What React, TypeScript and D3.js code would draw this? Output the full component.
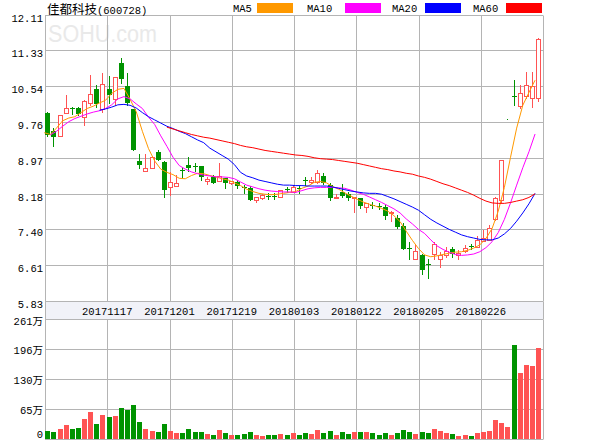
import { useEffect, useRef } from 'react';
import * as d3 from 'd3';

// daily K-line values (price in yuan, volume in 万 shares)
const opens = [
  9.95, 9.55, 9.45, 9.94, 10.07, 10.05, 9.87, 10.18, 10.47, 10.03,
  10.47, 10.26, 11.05, 10.54, 10.03, 8.9, 8.69, 8.75, 9.09, 8.87,
  8.33, 8.36, 8.7, 8.81, 8.79, 8.79, 8.45, 8.54, 8.46, 8.52,
  8.42, 8.44, 8.33, 8.3, 8.05, 8.09, 8.14, 8.13, 8.11, 8.29,
  8.22, 8.31, 8.49, 8.44, 8.43, 8.57, 8.37, 8.08, 8.22, 8.17,
  8.08, 8.08, 7.88, 7.94, 7.91, 7.88, 7.76, 7.66, 7.47, 7.0,
  6.74, 6.83, 6.64, 6.85, 6.74, 6.83, 6.98, 6.83, 6.93, 7.03,
  7.02, 7.15, 7.16, 7.62, 8.04, 9.81, 10.33, 10.11, 10.33, 10.29,
  10.27,
];
const closes = [
  9.47, 9.43, 9.9, 10.07, 10.05, 9.93, 10.21, 10.36, 10.15, 10.58,
  10.34, 10.73, 10.7, 10.17, 9.15, 8.81, 8.74, 8.99, 8.92, 8.27,
  8.43, 8.41, 8.68, 8.74, 8.78, 8.55, 8.5, 8.42, 8.57, 8.42,
  8.46, 8.35, 8.31, 8.05, 8.1, 8.15, 8.12, 8.12, 8.26, 8.27,
  8.32, 8.29, 8.47, 8.48, 8.63, 8.41, 8.09, 8.11, 8.13, 8.08,
  8.1, 7.91, 7.97, 7.92, 7.89, 7.69, 7.78, 7.45, 6.98, 6.99,
  6.93, 6.52, 6.62, 7.08, 6.83, 6.92, 6.87, 6.88, 7.0, 7.02,
  7.16, 7.22, 7.44, 8.09, 8.92, 9.81, 10.31, 10.4, 10.56, 10.54,
  11.57,
];
const highs = [
  9.98, 9.62, 9.9, 10.34, 10.08, 10.09, 10.23, 10.78, 10.56, 10.82,
  10.77, 10.73, 11.15, 10.82, 10.03, 9.06, 9.06, 9.0, 9.14, 8.9,
  8.66, 8.6, 8.74, 8.99, 8.86, 8.79, 8.55, 8.59, 8.86, 8.52,
  8.47, 8.48, 8.37, 8.35, 8.12, 8.17, 8.19, 8.19, 8.27, 8.32,
  8.37, 8.35, 8.55, 8.55, 8.7, 8.63, 8.41, 8.17, 8.39, 8.22,
  8.1, 8.09, 7.97, 8.0, 7.97, 7.93, 7.8, 7.71, 7.53, 7.12,
  7.05, 6.87, 6.74, 7.12, 6.91, 7.02, 7.02, 6.94, 7.05, 7.07,
  7.25, 7.38, 7.49, 8.11, 8.93, 9.81, 10.67, 10.56, 10.86, 10.86,
  11.59,
];
const lows = [
  9.44, 9.22, 9.45, 9.94, 9.93, 9.9, 9.69, 10.12, 10.09, 9.98,
  10.16, 10.12, 10.61, 10.12, 9.15, 8.74, 8.69, 8.74, 8.92, 8.11,
  8.15, 8.36, 8.52, 8.68, 8.68, 8.49, 8.39, 8.41, 8.46, 8.3,
  8.4, 8.3, 8.19, 8.04, 8.0, 8.07, 8.06, 8.07, 8.11, 8.22,
  8.22, 8.2, 8.37, 8.41, 8.41, 8.39, 8.04, 8.08, 8.11, 8.04,
  7.78, 7.87, 7.78, 7.86, 7.84, 7.62, 7.59, 7.44, 6.96, 6.76,
  6.74, 6.43, 6.34, 6.74, 6.58, 6.8, 6.8, 6.76, 6.91, 6.96,
  7.02, 7.15, 7.16, 7.6, 8.0, 9.81, 10.12, 10.05, 10.27, 10.09,
  10.22,
];
const volumes = [
  16, 14.5, 20, 29, 20, 23, 42, 57.5, 31, 51,
  46.6, 48.8, 66, 62, 73, 35.7, 20, 16, 13.8, 31,
  16, 11.6, 11.6, 20, 13.8, 13.8, 9.4, 7.3, 18, 11.6,
  7.3, 7.3, 9.4, 13.8, 7.3, 5, 7.3, 7.3, 9.4, 7.3,
  11.6, 7.3, 13, 9.4, 18, 11, 16, 7.3, 13.8, 9.4,
  13.8, 13.8, 13.8, 11.6, 7.3, 11.6, 7.3, 11.6, 18, 13.8,
  9.4, 13.8, 11.6, 20, 16, 11.6, 9.4, 5, 7.3, 5,
  11.6, 13.8, 16, 40, 33.5, 24.7, 204, 143.5, 160, 158,
  197,
];

// moving averages as drawn in the reference (null = not drawn yet)
const ma5 = [
  9.52, 9.48, 9.62, 9.78, 9.84, 9.87, 9.96, 10.05, 10.1, 10.17,
  10.23, 10.38, 10.47, 10.49, 10.25, 9.98, 9.55, 9.17, 8.9, 8.72,
  8.65, 8.6, 8.52, 8.51, 8.58, 8.63, 8.62, 8.58, 8.55, 8.51,
  8.48, 8.42, 8.36, 8.28, 8.23, 8.19, 8.17, 8.16, 8.17, 8.19,
  8.21, 8.23, 8.3, 8.35, 8.43, 8.45, 8.42, 8.34, 8.28, 8.2,
  8.13, 8.06, 8.0, 7.95, 7.91, 7.86, 7.8, 7.7, 7.57, 7.36,
  7.16, 6.98, 6.84, 6.8, 6.82, 6.85, 6.88, 6.9, 6.91, 6.94,
  6.99, 7.06, 7.2, 7.42, 7.8, 8.32, 8.98, 9.62, 10.12, 10.4,
  10.67,
];
const ma10 = [
  null, 9.47, 9.55, 9.66, 9.76, 9.83, 9.88, 9.93, 9.97, 10.0,
  10.05, 10.13, 10.26, 10.31, 10.26, 10.15, 10.05, 9.86, 9.7, 9.45,
  9.22, 8.98, 8.8, 8.72, 8.66, 8.62, 8.59, 8.57, 8.55, 8.55,
  8.54, 8.51, 8.44, 8.37, 8.33, 8.29, 8.26, 8.24, 8.23, 8.22,
  8.22, 8.21, 8.25, 8.29, 8.31, 8.32, 8.32, 8.32, 8.31, 8.3,
  8.26, 8.21, 8.17, 8.11, 8.05, 7.99, 7.92, 7.85, 7.76, 7.63,
  7.52, 7.4, 7.31, 7.17, 7.04, 6.96, 6.9, 6.85, 6.83, 6.84,
  6.86, 6.91, 7.0, 7.13, 7.33, 7.62, 7.98, 8.37, 8.75, 9.1,
  9.49,
];
const ma20 = [
  null, null, null, null, null, null, null, null, null, 10.01,
  10.04, 10.08, 10.13, 10.14, 10.12, 10.06, 9.96, 9.87, 9.8, 9.73,
  9.66, 9.61, 9.55, 9.5, 9.43, 9.36, 9.3, 9.18, 9.1, 9.02,
  8.94, 8.82, 8.65, 8.57, 8.53, 8.48, 8.45, 8.42, 8.39, 8.37,
  8.37, 8.36, 8.36, 8.35, 8.35, 8.35, 8.35, 8.33, 8.3, 8.27,
  8.24, 8.22, 8.2, 8.19, 8.19, 8.17, 8.12, 8.07, 8.01, 7.95,
  7.89, 7.82, 7.72, 7.62, 7.54, 7.47, 7.4, 7.34, 7.28, 7.24,
  7.21, 7.18, 7.17, 7.17, 7.21, 7.3, 7.42, 7.58, 7.76, 7.96,
  8.19,
];
const ma60 = [
  null, null, null, null, null, null, null, null, null, null,
  null, null, null, null, null, null, null, null, null, null,
  9.64, 9.6, 9.56, 9.52, 9.48, 9.45, 9.42, 9.4, 9.37, 9.34,
  9.31, 9.28, 9.24, 9.21, 9.19, 9.16, 9.13, 9.11, 9.09, 9.07,
  9.05, 9.03, 9.02, 9.0, 8.97, 8.95, 8.94, 8.93, 8.91, 8.89,
  8.87, 8.85, 8.82, 8.79, 8.76, 8.73, 8.71, 8.68, 8.66, 8.63,
  8.61, 8.57, 8.54, 8.5, 8.45, 8.4, 8.36, 8.31, 8.26, 8.21,
  8.15, 8.08, 8.02, 7.98, 7.97, 7.97, 7.99, 8.02, 8.05, 8.1,
  8.18,
];

const dateLabels = ['20171117', '20171201', '20171219', '20180103', '20180122', '20180205', '20180226'];
const priceTicks = ['12.11', '11.33', '10.54', '9.76', '8.97', '8.18', '7.40', '6.61', '5.83'];
const volTicks = ['261万', '196万', '130万', '65万', '0'];
const maNames = ['MA5', 'MA10', 'MA20', 'MA60'];

const RED = '#ff5353';
const GREEN = '#009300';
const GRID = '#b4b4b4';
const MA_COLORS = ['#ff9900', '#ff00ff', '#0000ff', '#ff0000'];
const MONO = '"Liberation Mono", "DejaVu Sans Mono", monospace';

const App = () => {
  const ref = useRef<SVGSVGElement | null>(null);

  useEffect(() => {
    const svg = d3.select(ref.current);
    svg.selectAll('*').remove();

    const left = 45;
    const right = 543;
    const priceTop = 14.5;
    const priceBottom = 301;
    const volTop = 319;
    const volBottom = 438.5;

    const idx = d3.range(closes.length);
    const x = d3.scaleBand<number>().domain(idx).range([44.2, 541.2]).padding(0);
    const step = x.step();
    const cx = (i: number) => Math.round((x(i) as number) + step / 2);

    const y = d3.scaleLinear().domain([5.83, 12.11]).range([priceBottom, priceTop]);
    const yv = d3.scaleLinear().domain([0, 261]).range([volBottom, volTop]);
    const cols = d3.scaleLinear().domain([0, 8]).range([left, right]);
    const crisp = (v: number) => Math.round(v) + 0.5;

    // date strip
    svg.append('rect')
      .attr('x', left).attr('y', priceBottom)
      .attr('width', right - left).attr('height', volTop - priceBottom)
      .attr('fill', '#f1f2f8');

    // watermark
    svg.append('text')
      .attr('x', 48).attr('y', 42)
      .attr('font-family', 'Arial, "Liberation Sans", sans-serif')
      .attr('font-size', 23)
      .attr('fill', '#e9e9e9')
      .attr('textLength', 109)
      .attr('lengthAdjust', 'spacingAndGlyphs')
      .text('SOHU.com');

    const grid = svg.append('g').attr('stroke', GRID).attr('stroke-width', 1).attr('fill', 'none');
    // horizontal price grid
    priceTicks.forEach((_, k) => {
      const yy = crisp(priceTop + (k * (priceBottom - priceTop)) / 8);
      grid.append('line').attr('x1', left).attr('x2', right).attr('y1', yy).attr('y2', yy);
    });
    volTicks.forEach((_, k) => {
      const yy = crisp(volTop + (k * (volBottom - volTop)) / 4);
      grid.append('line').attr('x1', left).attr('x2', right).attr('y1', yy).attr('y2', yy);
    });
    d3.range(9).forEach(k => {
      const xx = crisp(cols(k));
      grid.append('line').attr('x1', xx).attr('x2', xx).attr('y1', crisp(priceTop)).attr('y2', crisp(priceBottom));
      grid.append('line').attr('x1', xx).attr('x2', xx).attr('y1', crisp(volTop)).attr('y2', crisp(volBottom));
    });
    grid.append('line').attr('x1', crisp(left)).attr('x2', crisp(left))
      .attr('y1', crisp(priceBottom)).attr('y2', crisp(volTop));
    grid.append('line').attr('x1', crisp(right)).attr('x2', crisp(right))
      .attr('y1', crisp(priceBottom)).attr('y2', crisp(volTop));

    // axis labels
    const labels = svg.append('g').attr('font-family', MONO).attr('font-size', 10.5).attr('fill', '#000');
    priceTicks.forEach((t, k) => {
      labels.append('text')
        .attr('x', 43).attr('y', priceTop + (k * (priceBottom - priceTop)) / 8 + 7)
        .attr('text-anchor', 'end').text(t);
    });
    volTicks.forEach((t, k) => {
      const yy = volTop + (k * (volBottom - volTop)) / 4;
      labels.append('text')
        .attr('x', 43).attr('y', k === 4 ? yy - 1 : yy + 5.5)
        .attr('text-anchor', 'end')
        .attr('font-family', `${MONO}, "Noto Sans CJK SC"`)
        .text(t);
    });
    dateLabels.forEach((t, k) => {
      labels.append('text')
        .attr('x', cols(k + 1)).attr('y', 315)
        .attr('text-anchor', 'middle').text(t);
    });

    // candles
    const candles = svg.append('g');
    idx.forEach(i => {
      const o = opens[i], c = closes[i], h = highs[i], l = lows[i];
      const up = c > o;
      const col = up ? RED : GREEN;
      const px = cx(i);
      if (h === l) {
        candles.append('rect').attr('x', px).attr('y', Math.round(y(c))).attr('width', 1).attr('height', 1).attr('fill', col);
        return;
      }
      candles.append('line')
        .attr('x1', px + 0.5).attr('x2', px + 0.5)
        .attr('y1', Math.round(y(h))).attr('y2', Math.round(y(l)) + 1)
        .attr('stroke', col);
      const top = Math.round(y(Math.max(o, c)));
      const bot = Math.round(y(Math.min(o, c)));
      if (up) {
        candles.append('rect')
          .attr('x', px - 1.5).attr('y', top + 0.5)
          .attr('width', 4).attr('height', Math.max(bot - top, 1))
          .attr('fill', '#fff').attr('stroke', col);
      } else {
        candles.append('rect')
          .attr('x', px - 2).attr('y', top)
          .attr('width', 5).attr('height', Math.max(bot - top, 1))
          .attr('fill', col);
      }
    });

    // moving averages
    [ma5, ma10, ma20, ma60].forEach((series, k) => {
      const line = d3.line<number | null>()
        .defined(d => d !== null)
        .x((_, i) => (x(i) as number))
        .y(d => y(d as number));
      svg.append('path')
        .datum(series)
        .attr('d', line)
        .attr('fill', 'none')
        .attr('stroke', MA_COLORS[k])
        .attr('stroke-width', 1);
    });

    // volume bars
    svg.append('g')
      .selectAll('rect')
      .data(volumes)
      .enter()
      .append('rect')
      .attr('x', (_, i) => cx(i) - 2)
      .attr('y', d => Math.round(yv(d)))
      .attr('width', 5)
      .attr('height', d => Math.round(volBottom) - Math.round(yv(d)))
      .attr('fill', (_, i) => (closes[i] >= opens[i] ? RED : GREEN));

    // title
    const title = svg.append('text').attr('x', 47).attr('y', 14);
    title.append('tspan')
      .attr('font-family', '"Noto Sans CJK SC", sans-serif')
      .attr('font-size', 12.5)
      .text('佳都科技');
    title.append('tspan')
      .attr('font-family', MONO)
      .attr('font-size', 10.5)
      .text('(600728)');

    // legend
    const legendX = [233, 307, 392, 473];
    const swatchX = [257, 345, 425, 506];
    const legend = svg.append('g').attr('font-family', MONO).attr('font-size', 10.5);
    maNames.forEach((n, k) => {
      legend.append('text').attr('x', legendX[k]).attr('y', 12).text(n);
      legend.append('rect')
        .attr('x', swatchX[k]).attr('y', 3)
        .attr('width', 36).attr('height', 10)
        .attr('fill', MA_COLORS[k]);
    });
  }, []);

  return (
    <svg
      ref={ref}
      width={600}
      height={440}
      style={{ position: 'absolute', left: 0, top: 0, background: '#fff' }}
    />
  );
};

export default App;
